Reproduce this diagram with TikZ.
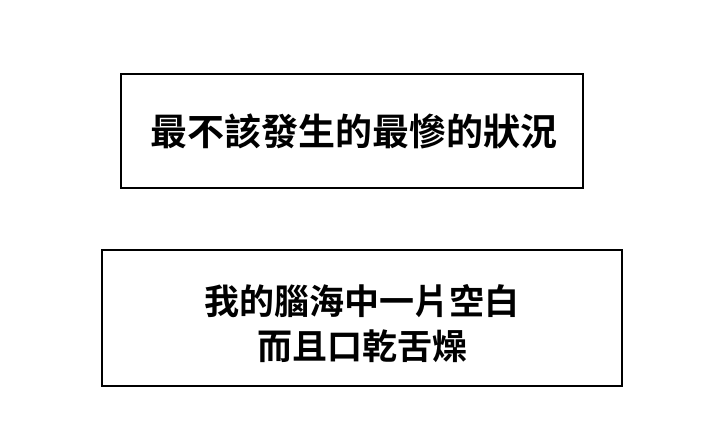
\documentclass[tikz,border=0pt]{standalone}
\usepackage{fontspec}
\newfontfamily\cjk{Noto Sans CJK TC}[BoldFont={Noto Sans CJK TC Bold}]
\begin{document}
\begin{tikzpicture}[x=1pt,y=-1pt,
  boxstyle/.style={draw=black,line width=1.2pt,fill=white},
  txt/.style={font=\cjk\bfseries,align=center,text=black}]
\useasboundingbox (0,0) rectangle (720,436);
\draw[boxstyle] (121,74) rectangle (583,188);
\draw[boxstyle] (102,250) rectangle (622,386);
\node[txt,font=\cjk\bfseries\fontsize{37}{45}\selectfont] (t1) at (354,131) {最不該發生的最慘的狀況};
\node[txt,font=\cjk\bfseries\fontsize{35}{45}\selectfont] (t2) at (362,324) {我的腦海中一片空白\\而且口乾舌燥};
\end{tikzpicture}
\end{document}
